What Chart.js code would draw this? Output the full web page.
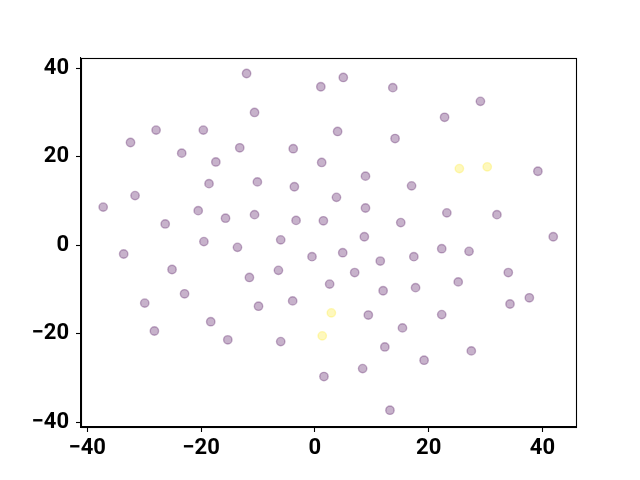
<!DOCTYPE html>
<html>
<head>
<meta charset="utf-8">
<script src="https://cdn.jsdelivr.net/npm/chart.js@4/dist/chart.umd.min.js"></script>
<style>
html,body{margin:0;padding:0;background:#fff;}
#wrap{width:640px;height:480px;position:relative;}
</style>
</head>
<body>
<div id="wrap"><canvas id="c" width="640" height="480"></canvas></div>
<script>
// Class 0 (purple) points
const purpleX = [-12.0, 1.05, -10.6, -27.9, -19.6, -32.4, -23.4, -13.2, -3.8, -17.4, 1.2, -18.6, -10.1, -3.6, -31.6, -37.2, -20.5, -26.3, -15.7, -10.6, -3.3, 1.5, -19.5, -13.6, -6.0,
  5.0, 13.7, 29.1, 22.8, 4.0, 14.1, 8.9, 17.0, 39.2, 3.8, 8.9, 15.1, 23.2, 32.0, 8.7, 41.9, 22.3,
  -33.6, -25.1, -29.9, -22.9, -28.2, -11.5, -6.4, -0.5, 2.6, -3.9, -9.9, -18.3, -15.3, -6.0, 1.6,
  4.9, 11.5, 17.4, 27.1, 7.0, 12.0, 17.7, 25.2, 34.0, 34.3, 37.7, 9.4, 22.3, 15.4, 12.3, 19.2, 27.5, 8.4, 13.2];
const purpleY = [38.8, 35.8, 30.0, 26.0, 26.0, 23.2, 20.8, 22.0, 21.8, 18.8, 18.7, 13.9, 14.3, 13.2, 11.2, 8.6, 7.8, 4.8, 6.1, 6.9, 5.6, 5.5, 0.8, -0.5, 1.2,
  37.9, 35.6, 32.5, 28.9, 25.7, 24.1, 15.6, 13.4, 16.7, 10.8, 8.4, 5.1, 7.3, 6.9, 1.9, 1.9, -0.8,
  -2.0, -5.5, -13.1, -11.0, -19.4, -7.3, -5.7, -2.6, -8.8, -12.6, -13.8, -17.3, -21.4, -21.8, -29.7,
  -1.7, -3.6, -2.6, -1.4, -6.2, -10.3, -9.6, -8.3, -6.2, -13.3, -11.9, -15.8, -15.7, -18.7, -23.0, -26.0, -23.9, -27.9, -37.3];
// Class 1 (yellow) points
const yellowX = [25.4, 30.3, 1.3, 2.9];
const yellowY = [17.3, 17.7, -20.5, -15.3];
// Tick labels
const xTicks = [-40, -20, 0, 20, 40];
const yTicks = [-40, -20, 0, 20, 40];

const toPts = (xs, ys) => xs.map((x, i) => ({x: x, y: ys[i]}));
const fmt = v => (v < 0 ? '\u2212' + Math.abs(v) : String(v));

const frame = {
  id: 'frame',
  afterDraw(chart) {
    const a = chart.chartArea, ctx = chart.ctx;
    ctx.save();
    ctx.strokeStyle = '#000';
    ctx.lineWidth = 1.1;
    ctx.strokeRect(Math.round(a.left) + 0.5, Math.round(a.top) + 0.5, Math.round(a.right - a.left), Math.round(a.bottom - a.top));
    ctx.restore();
  }
};

const tickFont = {family: 'Roboto', size: 22, weight: 'bold'};

new Chart(document.getElementById('c'), {
  type: 'scatter',
  data: {
    datasets: [
      {data: toPts(purpleX, purpleY), backgroundColor: 'rgba(68,1,84,0.3)', borderColor: 'rgba(68,1,84,0.3)', borderWidth: 1.4, pointRadius: 4.2, pointHoverRadius: 4.2},
      {data: toPts(yellowX, yellowY), backgroundColor: 'rgba(253,231,37,0.3)', borderColor: 'rgba(253,231,37,0.3)', borderWidth: 1.4, pointRadius: 4.2, pointHoverRadius: 4.2}
    ]
  },
  options: {
    responsive: false,
    animation: false,
    events: [],
    layout: {padding: {left: 0, top: 58, right: 64, bottom: 0}},
    plugins: {legend: {display: false}, tooltip: {enabled: false}},
    scales: {
      x: {
        type: 'linear', min: -41.1, max: 45.9,
        afterBuildTicks: s => { s.ticks = xTicks.map(v => ({value: v})); },
        afterFit: s => { s.height = 53; },
        grid: {display: true, drawOnChartArea: false, drawTicks: true, tickLength: 5, color: '#000', tickWidth: 1.1},
        border: {display: true, color: '#000', width: 1.1},
        ticks: {color: '#000', font: tickFont, padding: 3, maxRotation: 0, callback: v => fmt(v)}
      },
      y: {
        type: 'linear', min: -41.1, max: 42.3,
        afterBuildTicks: s => { s.ticks = yTicks.map(v => ({value: v})); },
        afterFit: s => { s.width = 81; },
        grid: {display: true, drawOnChartArea: false, drawTicks: true, tickLength: 5, color: '#000', tickWidth: 1.1},
        border: {display: true, color: '#000', width: 1.1},
        ticks: {color: '#000', font: tickFont, padding: 7, callback: v => fmt(v)}
      }
    }
  },
  plugins: [frame]
});
</script>
</body>
</html>
